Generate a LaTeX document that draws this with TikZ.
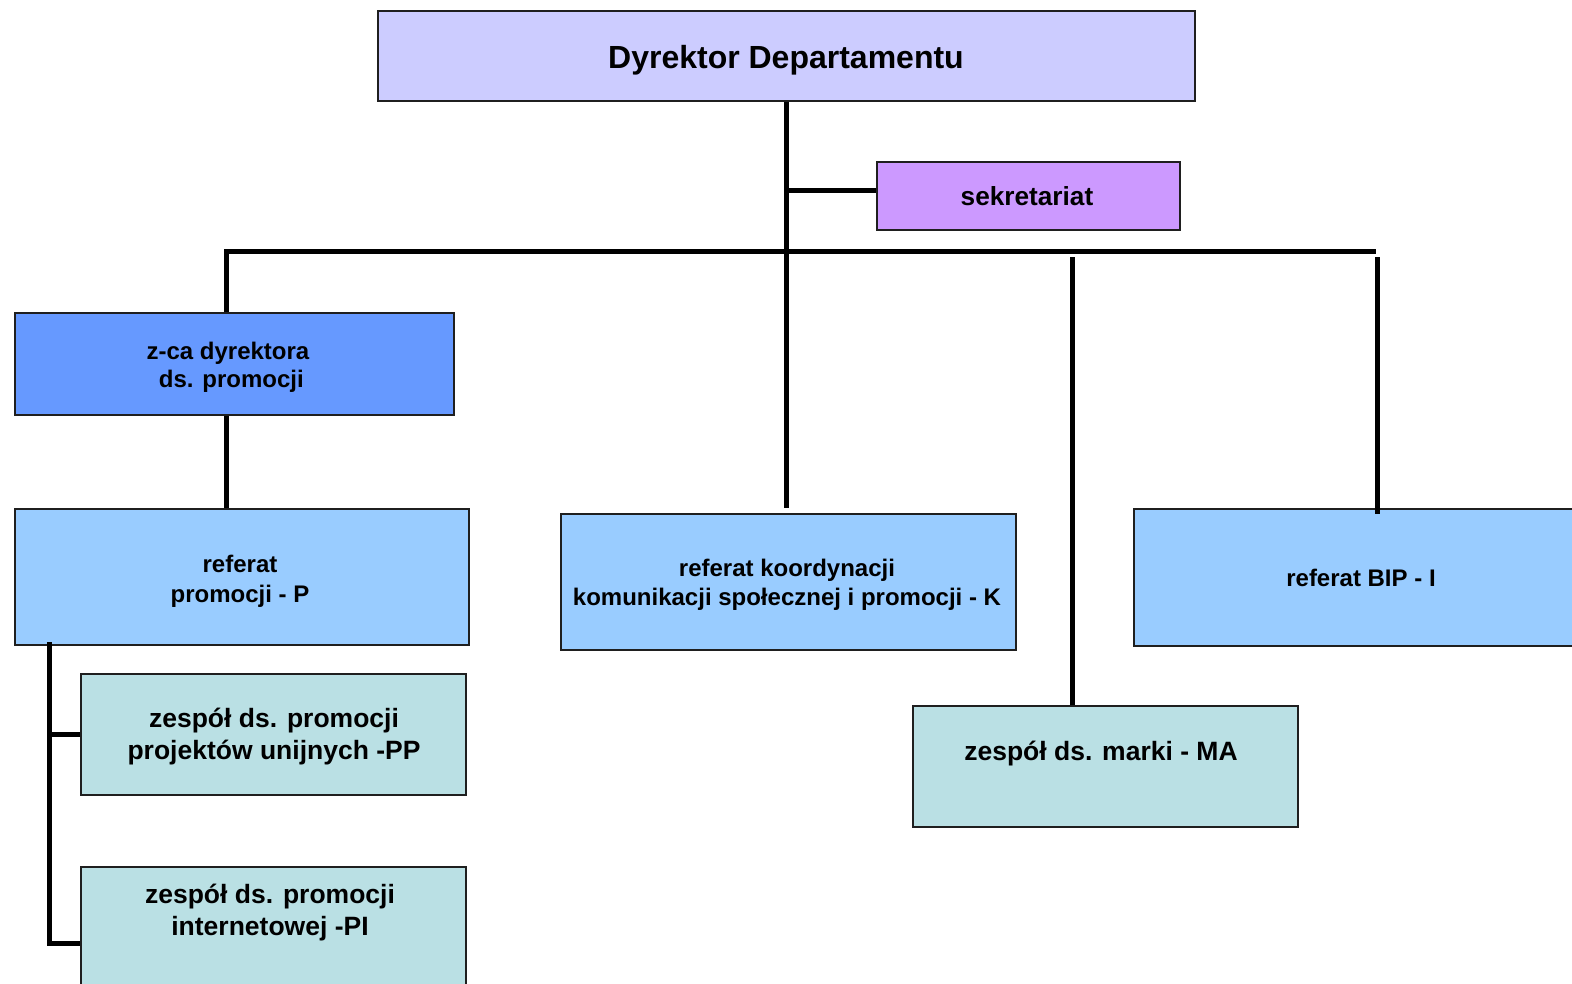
\documentclass[tikz,border=0pt]{standalone}
\usepackage{fontspec}
\setmainfont{Liberation Sans}
\usetikzlibrary{calc}
\definecolor{cdir}{HTML}{CCCCFF}
\definecolor{csek}{HTML}{CC99FF}
\definecolor{czca}{HTML}{6699FF}
\definecolor{cref}{HTML}{99CCFF}
\definecolor{czes}{HTML}{BAE0E4}
\begin{document}
\begin{tikzpicture}[x=1pt,y=-1pt,
  box/.style={draw=black!88, line width=1.8pt, inner sep=0pt, rectangle, anchor=north west},
  conn/.style={line width=5pt, draw=black},
  t24/.style={font=\bfseries\fontsize{24}{29}\selectfont, align=center, anchor=base, inner sep=0pt},
  t26/.style={font=\bfseries\fontsize{26.5}{32}\selectfont, align=center, anchor=base, inner sep=0pt},
  tdirst/.style={font=\bfseries\fontsize{32}{38}\selectfont, anchor=base, inner sep=0pt},
  tsekst/.style={font=\bfseries\fontsize{26.2}{31}\selectfont, anchor=base, inner sep=0pt}
]
\useasboundingbox (0,0) rectangle (1572,983);
\fill[white] (0,0) rectangle (1572,983);

% boxes
\node[box, fill=cdir, minimum width=817, minimum height=90] (dir) at (377,10) {};
\node[box, fill=csek, minimum width=303, minimum height=68] (sek) at (876,161) {};
\node[box, fill=czca, minimum width=439, minimum height=102] (zca) at (14,312) {};
\node[box, fill=cref, minimum width=454, minimum height=136] (refp) at (14,508) {};
\node[box, fill=cref, minimum width=455, minimum height=136] (koord) at (560,513) {};
\node[box, fill=cref, minimum width=470, minimum height=137] (bip) at (1133,508) {};
\node[box, fill=czes, minimum width=385, minimum height=121] (ma) at (912,705) {};
\node[box, fill=czes, minimum width=385, minimum height=121] (pp) at (80,673) {};
\node[box, fill=czes, minimum width=385, minimum height=140] (pi) at (80,866) {};

% connectors
\draw[conn] (dir.south) -- ($(dir.south |- koord.north)+(0,-5)$);
\coordinate (sb) at (785.5,190.5);
\draw[conn] (sb) -- (sb -| sek.west);
\coordinate (busL) at (226,251.5);
\coordinate (busR) at (1375.5,251.5);
\draw[conn] (zca.north -| busL) |- (busR);
\draw[conn] (zca.south -| busL) -- (refp.north -| busL);
\coordinate (maTop) at (1072.5,257);
\draw[conn] (maTop) -- (maTop |- ma.north);
\coordinate (bipTop) at (1377,257);
\coordinate (bipEnd) at (1377,514);
\draw[conn] (bipTop) -- (bipEnd);
\coordinate (sx) at (49,642);
\coordinate (pib) at (80,943);
\draw[conn] (sx) |- (pib);
\draw[conn] (sx |- pp.west) -- (pp.west);

% texts (multi-line nodes: base = baseline of last line)
\node[tdirst] (tdir) at (786,68) {Dyrektor Departamentu};
\node[tsekst] (tsek) at (1027,205) {sekretariat};
\node[t24, font=\bfseries\fontsize{24}{28}\selectfont] (tzca) at (228,387) {z-ca dyrektora\\\hspace*{0.28em}ds. promocji};
\node[t24, font=\bfseries\fontsize{24}{30}\selectfont] (trefp) at (240,602) {referat\\promocji - P};
\node[t24] (tkoord) at (787,605) {referat koordynacji\\komunikacji społecznej i promocji - K};
\node[t24] (tbip) at (1361,586) {referat BIP - I};
\node[t26] (tma) at (1101,760) {zespół ds. marki - MA};
\node[t26] (tpp) at (274,759) {zespół ds. promocji\\projektów unijnych -PP};
\node[t26] (tpi) at (270,935) {zespół ds. promocji\\internetowej -PI};
\end{tikzpicture}
\end{document}
